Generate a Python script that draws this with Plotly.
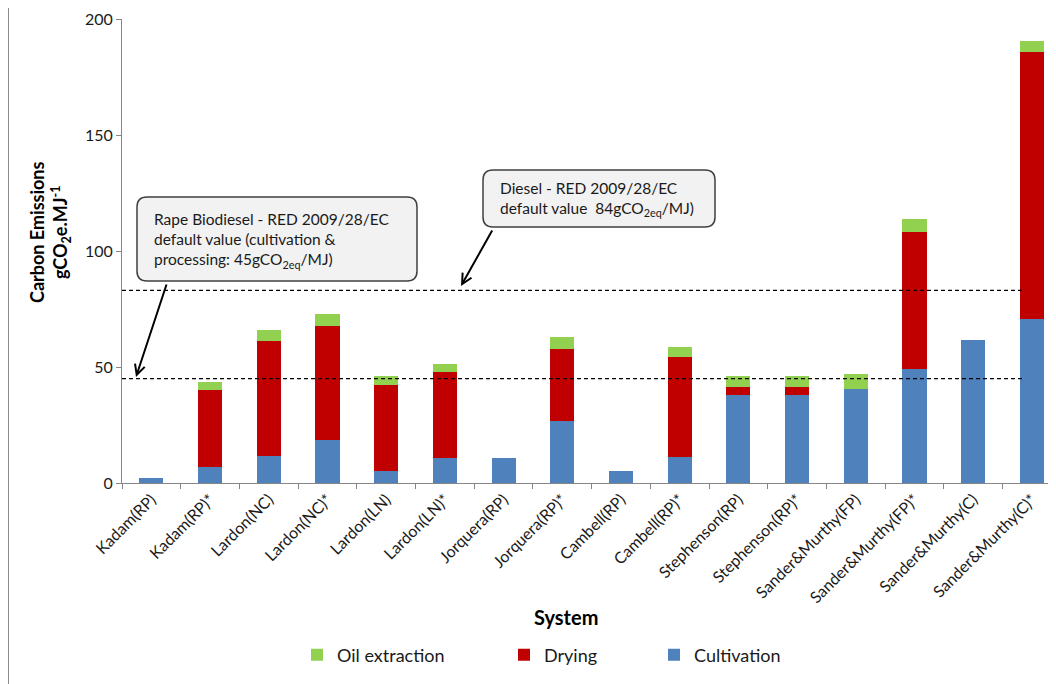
import plotly.graph_objects as go

systems = ["Kadam(RP)", "Kadam(RP)*", "Lardon(NC)", "Lardon(NC)*", "Lardon(LN)", "Lardon(LN)*",
           "Jorquera(RP)", "Jorquera(RP)*", "Cambell(RP)", "Cambell(RP)*", "Stephenson(RP)",
           "Stephenson(RP)*", "Sander&Murthy(FP)", "Sander&Murthy(FP)*", "Sander&Murthy(C)",
           "Sander&Murthy(C)*"]
cultivation = [2.0, 6.8, 11.8, 18.5, 5.2, 10.8, 10.8, 26.7, 5.2, 11.2, 37.9, 37.9, 40.6, 49.3, 61.5, 70.7]
drying = [0, 33.4, 49.5, 49.3, 37.2, 37.2, 0, 31.2, 0, 43.2, 3.6, 3.6, 0, 58.8, 0, 115.1]
oil_extraction = [0, 3.2, 4.6, 5.0, 3.7, 3.3, 0, 5.2, 0, 4.1, 4.6, 4.6, 6.4, 5.6, 0, 4.6]
rape_biodiesel_default = 45
diesel_default = 83
y_ticks = [0, 50, 100, 150, 200]

FONT = "Lato"
TXT = "#1a1a1a"
# the page body has an 8px margin, so the figure is 8px smaller than the window
OFF = 8
W, H = 1056 - OFF, 684 - OFF
# plot area in window pixels: left 122, top 19, bottom 483, right 1056
L, T = 122 - OFF, 19 - OFF
B = H - (483 - OFF)
R = 0
PW, PH = W - L - R, H - T - B


def px(x):
    return (x - 122) / PW


def py(y):
    return (483 - y) / PH


def rounded_box(x0, y0, x1, y1, r=10):
    a, b = px(x0), px(x1)
    top, bot = py(y0), py(y1)
    rx, ry = r / PW, r / PH
    return (f"M{a+rx},{top} L{b-rx},{top} Q{b},{top} {b},{top-ry} L{b},{bot+ry} Q{b},{bot} {b-rx},{bot} "
            f"L{a+rx},{bot} Q{a},{bot} {a},{bot+ry} L{a},{top-ry} Q{a},{top} {a+rx},{top} Z")


fig = go.Figure()
fig.add_trace(go.Bar(x=systems, y=cultivation, name="Cultivation", marker_color="#4F81BD",
                     marker_line_width=0, legend="legend3", showlegend=True))
fig.add_trace(go.Bar(x=systems, y=drying, name="Drying", marker_color="#C00000",
                     marker_line_width=0, legend="legend2", showlegend=True))
fig.add_trace(go.Bar(x=systems, y=oil_extraction, name="Oil extraction", marker_color="#92D050",
                     marker_line_width=0, legend="legend", showlegend=True))

shapes = []
for val in [rape_biodiesel_default, diesel_default]:
    shapes.append(dict(type="line", xref="x", yref="y", x0=-0.5, x1=14.87, y0=val, y1=val,
                       line=dict(color="#000000", width=1.2, dash="4px,3px"), layer="above"))
shapes.append(dict(type="path", xref="paper", yref="paper", path=rounded_box(137, 197, 417, 281),
                   fillcolor="#F2F2F2", line=dict(color="#404040", width=1.5), layer="above"))
shapes.append(dict(type="path", xref="paper", yref="paper", path=rounded_box(483, 170, 715, 227),
                   fillcolor="#F2F2F2", line=dict(color="#404040", width=1.5), layer="above"))
shapes.append(dict(type="line", xref="paper", yref="paper", x0=px(8.5), x1=px(8.5), y0=py(8), y1=py(684),
                   line=dict(color="#8c8c8c", width=1)))

annotations = [
    dict(xref="paper", yref="paper", x=px(152), y=py(240), xanchor="left", yanchor="middle", align="left",
         showarrow=False, font=dict(family=FONT, size=15.5, color=TXT),
         text="Rape Biodiesel - RED 2009/28/EC<br>default value (cultivation &amp;<br>processing: 45gCO<sub>2eq</sub>/MJ)"),
    dict(xref="paper", yref="paper", x=px(498), y=py(198.5), xanchor="left", yanchor="middle", align="left",
         showarrow=False, font=dict(family=FONT, size=15.5, color=TXT),
         text="Diesel - RED 2009/28/EC<br>default value  84gCO<sub>2eq</sub>/MJ)"),
    dict(xref="paper", yref="paper", x=px(136), y=py(377), text="", showarrow=True, arrowhead=5,
         arrowsize=1, arrowwidth=2, arrowcolor="#000000", axref="pixel", ayref="pixel", ax=31, ay=-94,
         standoff=0),
    dict(xref="paper", yref="paper", x=px(461), y=py(286), text="", showarrow=True, arrowhead=5,
         arrowsize=1, arrowwidth=2, arrowcolor="#000000", axref="pixel", ayref="pixel", ax=32, ay=-57,
         standoff=0),
    dict(xref="paper", yref="paper", x=px(50), y=py(232), textangle=-90, showarrow=False,
         xanchor="center", yanchor="middle",
         font=dict(family=FONT, size=18, color="#000000", weight="bold"),
         text="Carbon Emissions<br>gCO<sub>2</sub>e.MJ<sup>-1</sup>"),
    dict(xref="paper", yref="paper", x=px(566), y=py(617), showarrow=False, xanchor="center", yanchor="middle",
         font=dict(family=FONT, size=20, color="#000000", weight="bold"), text="System"),
]

legend_font = dict(family=FONT, size=18, color=TXT)
common_leg = dict(orientation="h", yanchor="middle", xanchor="left", font=legend_font,
                  bgcolor="rgba(0,0,0,0)", borderwidth=0, y=py(655))

fig.update_layout(
    width=W, height=H,
    margin=dict(l=L, r=R, t=T, b=B),
    paper_bgcolor="white", plot_bgcolor="white",
    barmode="stack", bargap=0.59,
    showlegend=True,
    font=dict(family=FONT, color=TXT),
    xaxis=dict(type="category", range=[-0.5, 15.41], tickangle=-45, tickson="boundaries",
               ticks="outside", ticklen=5, tickcolor="#868686", showline=True, linecolor="#868686",
               linewidth=1, showgrid=False, tickfont=dict(family=FONT, size=16, color=TXT)),
    yaxis=dict(range=[0, 200], tickvals=y_ticks, ticks="outside", ticklen=5, tickcolor="#868686",
               showline=True, linecolor="#868686", linewidth=1, showgrid=False, zeroline=False,
               tickfont=dict(family=FONT, size=16, color=TXT)),
    legend=dict(x=px(297), **common_leg),
    legend2=dict(x=px(504), **common_leg),
    legend3=dict(x=px(654), **common_leg),
    shapes=shapes,
    annotations=annotations,
)

fig.write_html("out.html")
